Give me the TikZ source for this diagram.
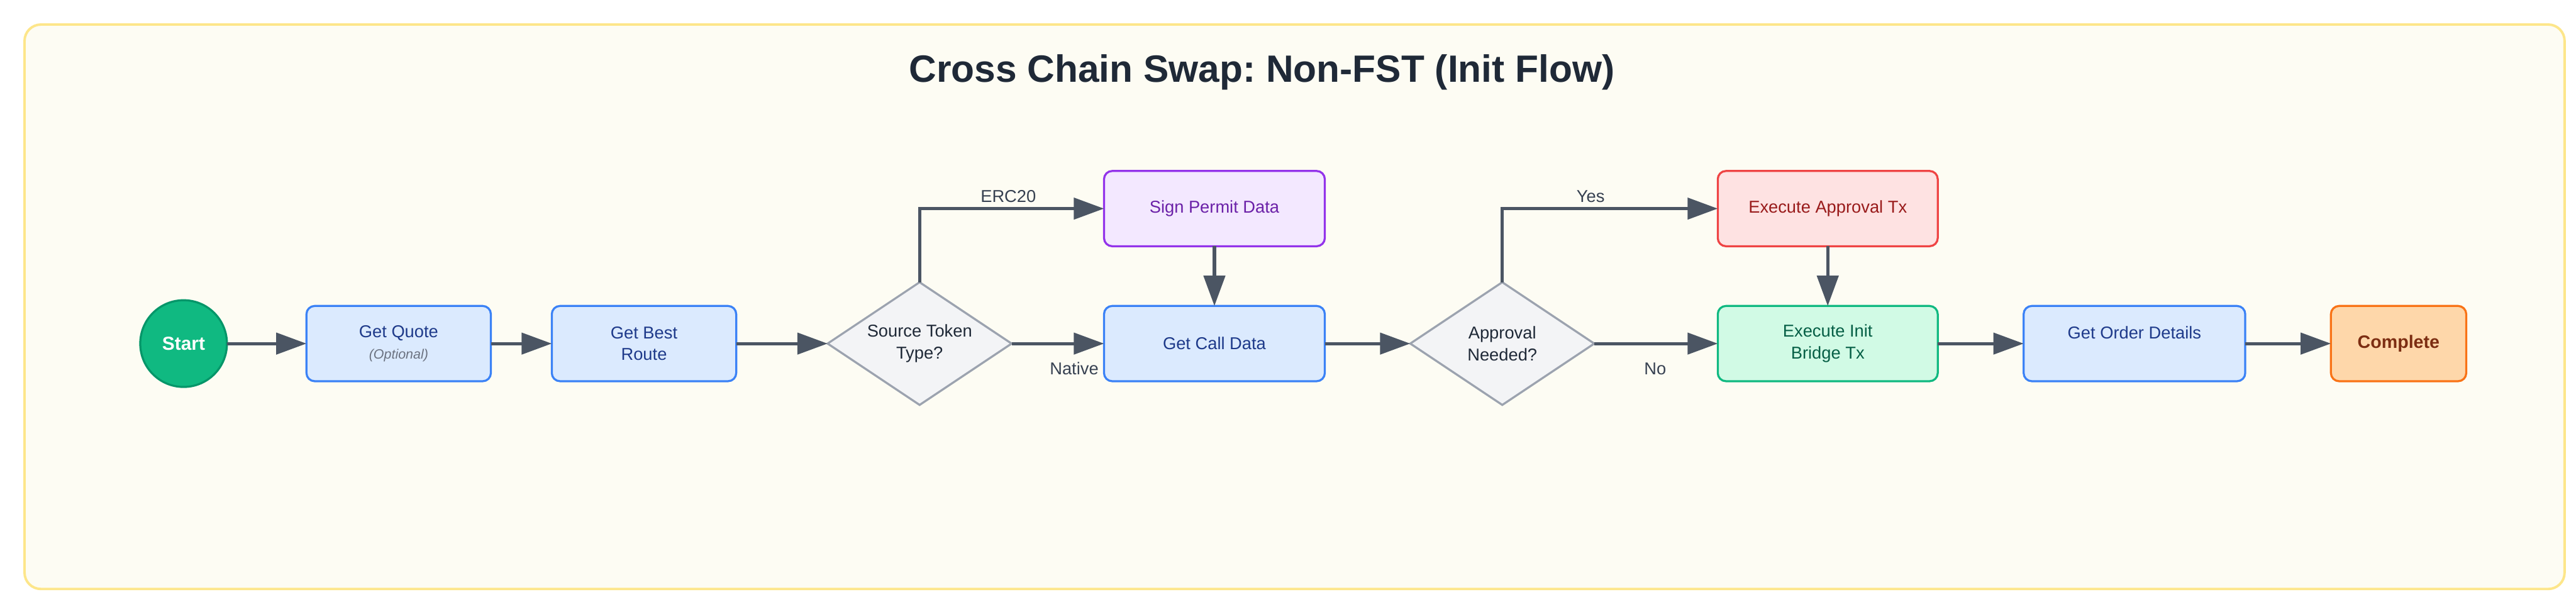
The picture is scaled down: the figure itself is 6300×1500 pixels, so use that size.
\documentclass[tikz,border=0pt]{standalone}
\usepackage{fontspec}
\setmainfont{Liberation Sans}
\usetikzlibrary{arrows.meta,shapes.geometric}
\frenchspacing
\definecolor{framefill}{HTML}{FDFCF3}
\definecolor{framedraw}{HTML}{FDE68A}
\definecolor{titlec}{HTML}{1F2937}
\definecolor{edgec}{HTML}{4B5563}
\definecolor{lblc}{HTML}{374151}
\definecolor{bluefill}{HTML}{DBEAFE}
\definecolor{bluedraw}{HTML}{3B82F6}
\definecolor{bluetext}{HTML}{1E3A8A}
\definecolor{purpfill}{HTML}{F3E8FF}
\definecolor{purpdraw}{HTML}{9333EA}
\definecolor{purptext}{HTML}{6B21A8}
\definecolor{redfill}{HTML}{FEE2E2}
\definecolor{reddraw}{HTML}{EF4444}
\definecolor{redtext}{HTML}{991B1B}
\definecolor{greenfill}{HTML}{D1FAE5}
\definecolor{greendraw}{HTML}{10B981}
\definecolor{greentext}{HTML}{065F46}
\definecolor{orangefill}{HTML}{FED7AA}
\definecolor{orangedraw}{HTML}{F97316}
\definecolor{orangetext}{HTML}{7C2D12}
\definecolor{startfill}{HTML}{10B981}
\definecolor{startdraw}{HTML}{059669}
\definecolor{decfill}{HTML}{F3F4F6}
\definecolor{decdraw}{HTML}{9CA3AF}
\definecolor{optc}{HTML}{6B7280}
\newcommand{\zw}[1]{\makebox[0pt]{#1}}
\tikzset{
  base/.style={font=\fontsize{4.2pt}{5.3pt}\selectfont, align=center, outer sep=0pt, inner sep=0pt, line width=0.5pt},
  procbox/.style={base, rectangle, rounded corners=2pt, minimum width=45.1pt, minimum height=18.4pt},
  bluebox/.style={procbox, fill=bluefill, draw=bluedraw, text=bluetext},
  widebox/.style={base, rectangle, rounded corners=2pt, minimum width=54pt, minimum height=18.4pt},
  decision/.style={base, diamond, minimum width=45pt, minimum height=30pt, fill=decfill, draw=decdraw, text=titlec},
  edge/.style={draw=edgec, line width=0.8pt, -{Triangle[length=7.4pt,width=5.2pt]}},
  lbl/.style={font=\fontsize{4.2pt}{5.3pt}\selectfont, text=lblc, inner sep=0pt}
}
\begin{document}
\begin{tikzpicture}[x=0.1pt,y=-0.1pt]
\useasboundingbox (0,0) rectangle (6300,1500);
\fill[white] (0,0) rectangle (6300,1500);
\draw[fill=framefill, draw=framedraw, line width=0.6pt, rounded corners=4pt] (60,60) rectangle (6272,1440);
\node[font=\fontsize{9.3pt}{11pt}\selectfont\bfseries, text=titlec] (title) at (3086,176) {Cross Chain Swap: Non-FST (Init Flow)};

\node[base, circle, minimum size=21.2pt, fill=startfill, draw=startdraw, text=white, font=\fontsize{4.6pt}{5.5pt}\selectfont\bfseries] (start) at (449,840) {Start};
\node[bluebox] (quote) at (975,840) {Get Quote\\{\fontsize{3.3pt}{4pt}\selectfont\itshape\color{optc}(Optional)}};
\node[bluebox] (route) at (1575,840) {Get Best\\Route};
\node[decision] (src) at (2249,840) {\zw{Source Token}\\\zw{Type?}};
\node[widebox, fill=purpfill, draw=purpdraw, text=purptext] (permit) at (2970,510) {Sign Permit Data};
\node[widebox, fill=bluefill, draw=bluedraw, text=bluetext] (call) at (2970,840) {Get Call Data};
\node[decision] (appr) at (3674,840) {\zw{Approval}\\\zw{Needed?}};
\node[widebox, minimum width=53.8pt, fill=redfill, draw=reddraw, text=redtext] (apptx) at (4470,510) {Execute Approval Tx};
\node[widebox, minimum width=53.8pt, fill=greenfill, draw=greendraw, text=greentext] (init) at (4470,840) {Execute Init\\Bridge Tx};
\node[widebox, minimum width=54.2pt, fill=bluefill, draw=bluedraw, text=bluetext] (order) at (5220,840) {Get Order Details\\\phantom{X}};
\node[base, rectangle, rounded corners=2pt, minimum width=33.1pt, minimum height=18.4pt, fill=orangefill, draw=orangedraw, text=orangetext, font=\fontsize{4.4pt}{5.3pt}\selectfont\bfseries] (done) at (5866,840) {Complete};

\draw[edge] (start) -- (quote);
\draw[edge] (quote) -- (route);
\draw[edge] (route) -- (src);
\draw[edge] (src.north) |- (permit.west);
\draw[edge] (src.east) -- (call.west);
\draw[edge] (permit) -- (call);
\draw[edge] (call) -- (appr);
\draw[edge] (appr.north) |- (apptx.west);
\draw[edge] (appr.east) -- (init.west);
\draw[edge] (apptx) -- (init);
\draw[edge] (init) -- (order);
\draw[edge] (order) -- (done);

\node[lbl] (lerc) at (2466,480) {ERC20};
\node[lbl] (lnat) at (2627,901) {Native};
\node[lbl] (lyes) at (3890,480) {Yes};
\node[lbl] (lno) at (4048,901) {No};
\end{tikzpicture}
\end{document}
